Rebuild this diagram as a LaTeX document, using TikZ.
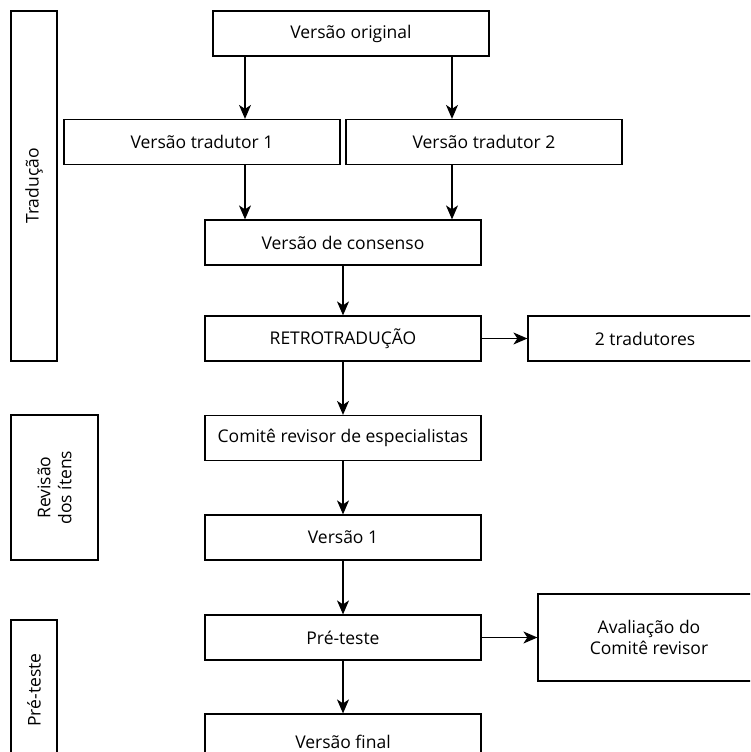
\documentclass[tikz,border=0pt]{standalone}
\usepackage{fontspec}
\setmainfont{Open Sans}
\usetikzlibrary{arrows.meta}

\begin{document}
\begin{tikzpicture}[x=1pt,y=-1pt,
    box/.style={draw,line width=1.2pt,minimum width=276pt,minimum height=45pt,inner sep=0pt,font=\fontsize{17.5}{21}\selectfont},
    stage/.style={draw,line width=1.2pt,rotate=90,inner sep=0pt,align=center,font=\fontsize{17.5}{21}\selectfont},
    flow/.style={-{Stealth[length=14pt,width=12pt,inset=4pt]},line width=1.2pt}]
    \clip (0,0) rectangle (750,752);
    % stages
    \node[stage,minimum width=350pt,minimum height=46pt] (traducao) at (34,186) {Tradução};
    \node[stage,minimum width=145pt,minimum height=87pt] (revisao) at (54.5,487.5) {Revisão\\dos ítens};
    \node[stage,minimum width=140pt,minimum height=46pt] (preteste) at (34,690) {Pré-teste};
    % steps
    \node[box] (orig) at (351,33.5) {Versão original};
    \node[box] (trad1) at (202,142) {Versão tradutor 1};
    \node[box] (trad2) at (484,142) {Versão tradutor 2};
    \node[box] (consenso) at (343,242.5) {Versão de consenso};
    \node[box] (retro) at (343,338.5) {RETROTRADUÇÃO};
    \node[box,minimum width=234pt] (dois) at (645,338.5) {2 tradutores};
    \node[box] (comite) at (343,438) {Comitê revisor de especialistas};
    \node[box] (v1) at (343,537.5) {Versão 1};
    \node[box] (pre) at (343,637.5) {Pré-teste};
    \node[box,minimum width=222pt,minimum height=87pt,align=center] (aval) at (649,637.5) {Avaliação do\\Comitê revisor};
    \node[box,minimum height=55pt] (final) at (343,741.5) {Versão final};
    \coordinate (xa) at (245,0);
    \coordinate (xb) at (452,0);
    \draw[flow] (orig.south -| xa) -- (trad1.north -| xa);
    \draw[flow] (orig.south -| xb) -- (trad2.north -| xb);
    \draw[flow] (trad1.south -| xa) -- (consenso.north -| xa);
    \draw[flow] (trad2.south -| xb) -- (consenso.north -| xb);
    \draw[flow] (consenso) -- (retro);
    \draw[flow] (retro) -- (dois);
    \draw[flow] (retro) -- (comite);
    \draw[flow] (comite) -- (v1);
    \draw[flow] (v1) -- (pre);
    \draw[flow] (pre) -- (aval);
    \draw[flow] (pre) -- (final);
\end{tikzpicture}
\end{document}
